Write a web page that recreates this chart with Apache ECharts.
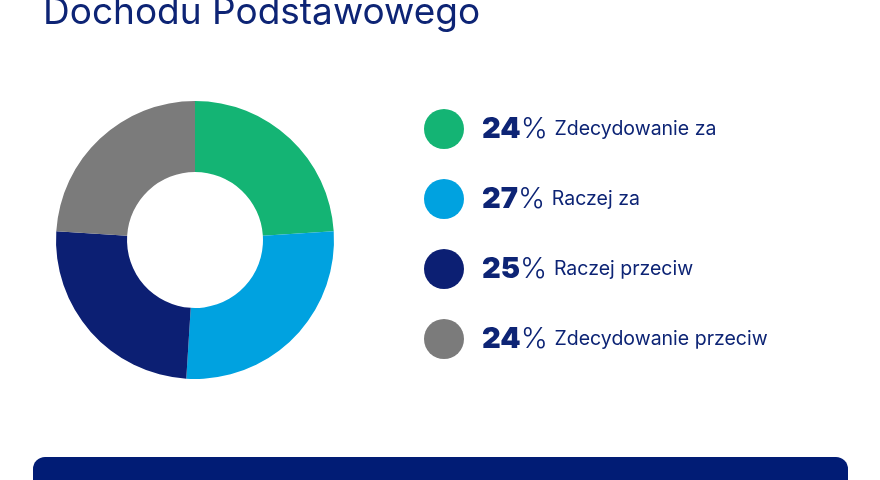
<!DOCTYPE html>
<html><head><meta charset="utf-8">
<script src="https://cdn.jsdelivr.net/npm/echarts@6/dist/echarts.min.js"></script>
<style>html,body{margin:0;padding:0;background:#fff}#main{width:880px;height:480px}</style>
</head><body><div id="main"></div>
<script>
const categories = ['Zdecydowanie za', 'Raczej za', 'Raczej przeciw', 'Zdecydowanie przeciw'];
const values = [24, 27, 25, 24];
const colors = ['#14b474', '#00a2e0', '#0c1f73', '#7b7b7b'];
const title = 'Dochodu Podstawowego';

const chart = echarts.init(document.getElementById('main'));
const data = categories.map((c, i) => ({ name: c, value: values[i], itemStyle: { color: colors[i] } }));

chart.setOption({
  backgroundColor: '#fff',
  animation: false,
  title: {
    text: title, left: 38, top: -11,
    textStyle: { color: '#0d2475', fontSize: 37, fontWeight: 'normal', fontFamily: 'Inter' }
  },
  legend: {
    orient: 'vertical', left: 419, top: 104,
    icon: 'circle', itemWidth: 40, itemHeight: 40, itemGap: 30,
    formatter: name => {
      const i = categories.indexOf(name);
      return '{v|' + values[i] + '}{p|%}  {l|' + name + '}';
    },
    textStyle: {
      padding: [0, 0, 0, 13],
      rich: {
        v: { fontSize: 29, fontWeight: 900, color: '#0d2475', fontFamily: 'Inter' },
        p: { fontSize: 29, fontWeight: 300, color: '#0d2475', fontFamily: 'Inter' },
        l: { fontSize: 19.5, color: '#0d2475', fontFamily: 'Inter' }
      }
    }
  },
  series: [{
    type: 'pie', center: [195, 240], radius: [68, 139],
    startAngle: 90, clockwise: true,
    label: { show: false }, labelLine: { show: false },
    emphasis: { disabled: true },
    data
  }],
  graphic: [{
    type: 'rect', left: 33, top: 457,
    shape: { width: 815, height: 60, r: [12, 12, 0, 0] },
    style: { fill: '#011c75' }
  }]
});
</script></body></html>
